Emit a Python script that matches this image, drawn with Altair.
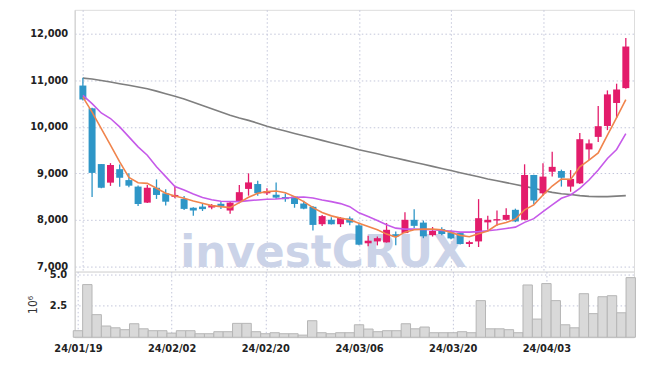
import json
import altair as alt
import pandas as pd

dates = ["24/01/19", "24/01/22", "24/01/23", "24/01/24", "24/01/25", "24/01/26", "24/01/29", "24/01/30", "24/01/31", "24/02/01",
         "24/02/02", "24/02/05", "24/02/06", "24/02/07", "24/02/08", "24/02/13", "24/02/14", "24/02/15", "24/02/16", "24/02/19",
         "24/02/20", "24/02/21", "24/02/22", "24/02/23", "24/02/26", "24/02/27", "24/02/28", "24/02/29", "24/03/04", "24/03/05",
         "24/03/06", "24/03/07", "24/03/08", "24/03/11", "24/03/12", "24/03/13", "24/03/14", "24/03/15", "24/03/18", "24/03/19",
         "24/03/20", "24/03/21", "24/03/22", "24/03/25", "24/03/26", "24/03/27", "24/03/28", "24/03/29", "24/04/01", "24/04/02",
         "24/04/03", "24/04/04", "24/04/05", "24/04/08", "24/04/09", "24/04/11", "24/04/12", "24/04/15", "24/04/16", "24/04/17"]

opens = [10890, 10400, 9200, 8800, 9090, 8855, 8715, 8370, 8690, 8570,
         8495, 8450, 8260, 8285, 8265, 8345, 8200, 8385, 8665, 8770,
         8570, 8540, 8490, 8500, 8350, 8280, 7905, 8000, 7905, 8030,
         7880, 7495, 7535, 7515, 7690, 7715, 8000, 7940, 7670, 7800,
         7730, 7715, 7480, 7535, 7945, 7985, 8000, 8215, 8000, 8965,
         8570, 9035, 9050, 8715, 8785, 9515, 9785, 10020, 10515, 10835]
closes = [10590, 9010, 8690, 9180, 8905, 8735, 8340, 8690, 8535, 8390,
          8535, 8235, 8200, 8230, 8315, 8290, 8370, 8595, 8805, 8570,
          8620, 8478, 8445, 8340, 8240, 7890, 8080, 7905, 8040, 7940,
          7465, 7550, 7605, 7785, 7640, 8000, 7870, 7645, 7760, 7695,
          7600, 7480, 7520, 8035, 8000, 8015, 8105, 7965, 8965, 8415,
          8930, 9140, 8905, 8880, 9735, 9645, 10015, 10700, 10805, 11730]
highs = [11060, 10410, 9200, 9220, 9190, 9000, 8740, 8750, 8870, 8660,
         8735, 8510, 8270, 8355, 8340, 8390, 8390, 8750, 9000, 8840,
         8680, 8805, 8565, 8510, 8410, 8300, 8105, 8055, 8060, 8070,
         7930, 7655, 7640, 7930, 7750, 8165, 8230, 7985, 7845, 7840,
         7770, 7720, 7550, 8445, 8085, 8200, 8250, 8240, 9195, 8970,
         9215, 9465, 9080, 9070, 9870, 9730, 10450, 10785, 10930, 11915]
lows = [10570, 8490, 8680, 8730, 8710, 8700, 8300, 8360, 8450, 8310,
        8465, 8210, 8085, 8190, 8230, 8235, 8130, 8355, 8520, 8520,
        8535, 8450, 8390, 8260, 8230, 7770, 7865, 7900, 7845, 7885,
        7450, 7430, 7450, 7510, 7450, 7710, 7820, 7605, 7640, 7670,
        7580, 7470, 7415, 7415, 7785, 7870, 7990, 7950, 7990, 8340,
        8520, 8930, 8715, 8605, 8770, 9285, 9675, 9930, 10190, 10820]
volumes = [0.52, 4.17, 1.79, 0.89, 0.75, 0.60, 1.07, 0.67, 0.52, 0.52,
           0.33, 0.52, 0.52, 0.28, 0.28, 0.44, 0.44, 1.10, 1.10, 0.44,
           0.28, 0.36, 0.28, 0.28, 0.17, 1.31, 0.36, 0.28, 0.36, 0.36,
           0.99, 0.65, 0.44, 0.52, 0.52, 1.07, 0.67, 0.81, 0.36, 0.36,
           0.36, 0.44, 0.36, 2.90, 0.67, 0.67, 0.60, 0.36, 4.14, 1.44,
           4.25, 2.90, 0.99, 0.75, 3.45, 1.87, 3.21, 3.29, 1.94, 4.72]
ma_short = [10641, 10320, 9964, 9606, 9248, 8914, 8798, 8785, 8678, 8571,
            8513, 8464, 8406, 8357, 8306, 8284, 8263, 8370, 8485, 8571,
            8606, 8620, 8584, 8499, 8391, 8263, 8156, 8085, 8036, 8000,
            7928, 7856, 7785, 7692, 7628, 7735, 7785, 7800, 7800, 7785,
            7728, 7665, 7635, 7700, 7760, 7892, 7942, 8015, 8214, 8321,
            8535, 8728, 8878, 8871, 9142, 9285, 9441, 9821, 10200, 10586]
ma_mid = [10680, 10500, 10300, 10180, 10000, 9785, 9570, 9390, 9140, 8930,
          8715, 8640, 8555, 8480, 8430, 8400, 8395, 8392, 8413, 8428,
          8443, 8449, 8464, 8485, 8492, 8470, 8428, 8392, 8349, 8284,
          8150, 8071, 7985, 7892, 7821, 7800, 7800, 7793, 7785, 7771,
          7757, 7735, 7735, 7745, 7765, 7785, 7814, 7843, 7945, 8025,
          8178, 8321, 8464, 8535, 8678, 8857, 9071, 9321, 9514, 9857]
ma_long = [11050, 11030, 11000, 10965, 10930, 10895, 10860, 10820, 10770, 10715,
           10660, 10600, 10530, 10460, 10390, 10320, 10250, 10190, 10140, 10080,
           10015, 9960, 9910, 9860, 9810, 9760, 9710, 9660, 9610, 9560,
           9510, 9465, 9420, 9375, 9330, 9285, 9240, 9195, 9150, 9105,
           9060, 9015, 8970, 8925, 8880, 8840, 8800, 8760, 8720, 8680,
           8630, 8590, 8560, 8545, 8520, 8505, 8500, 8500, 8510, 8520]

price_ticks = [7000, 8000, 9000, 10000, 11000, 12000]
volume_ticks = [2.5, 5.0]
date_tick_index = [0, 10, 20, 30, 40, 50]
watermark = ["investCRUX"]

UP = "#e31c6b"
DOWN = "#2e96c7"
FONT = "DejaVu Sans Condensed"
GRID = "#c3c6da"
LABEL = dict(labelFont=FONT, labelFontSize=11, labelFontWeight="bold", labelColor="#222222")

df = pd.DataFrame({
    "i": list(range(len(dates))), "date": dates,
    "open": opens, "high": highs, "low": lows, "close": closes,
    "vol": volumes, "ma5": ma_short, "ma20": ma_mid, "ma60": ma_long,
})

xdom = [-0.35, len(dates) - 1 + 0.35]
label_expr = json.dumps(dates) + "[datum.value]"

x_price = alt.X("i:Q", scale=alt.Scale(domain=xdom, nice=False, zero=False),
                axis=alt.Axis(values=date_tick_index, labels=False, ticks=False, domain=False,
                              grid=True, gridColor=GRID, gridDash=[1.5, 2.5], title=None))
y_price_scale = alt.Scale(domain=[6886, 12520], nice=False, zero=False)

base = alt.Chart(df)

wm = alt.Chart(pd.DataFrame({"t": watermark})).mark_text(
    font="DejaVu Sans", fontWeight="bold", fontSize=44, color="#cbd3e8",
    align="center", baseline="alphabetic"
).encode(text="t:N", x=alt.value(250), y=alt.value(258))

color_cond = alt.condition("datum.close >= datum.open", alt.value(UP), alt.value(DOWN))

wick = base.mark_rule(strokeWidth=1.3).encode(
    x=x_price,
    y=alt.Y("low:Q", scale=y_price_scale,
            axis=alt.Axis(values=price_ticks, format=",.0f", grid=True, gridColor=GRID, gridDash=[1.5, 2.5],
                          ticks=False, domainColor="#cfcfcf", labelPadding=7, title=None, **LABEL)),
    y2="high:Q",
    color=color_cond,
)
body = base.mark_bar(size=7).encode(
    x="i:Q", y="open:Q", y2="close:Q", color=color_cond,
)
l5 = base.mark_line(color="#f0844c", strokeWidth=1.6).encode(x="i:Q", y="ma5:Q")
l20 = base.mark_line(color="#c65ae9", strokeWidth=1.6).encode(x="i:Q", y="ma20:Q")
l60 = base.mark_line(color="#7f7f7f", strokeWidth=1.6).encode(x="i:Q", y="ma60:Q")

price = alt.layer(wm, l60, wick, body, l20, l5).properties(width=562, height=263)

vol = base.transform_calculate(x0="datum.i - 0.5", x1="datum.i + 0.5").mark_bar(
    fill="#d9d9d9", stroke="#b5b5b5", strokeWidth=1
).encode(
    x=alt.X("x0:Q", scale=alt.Scale(domain=xdom, nice=False, zero=False),
            axis=alt.Axis(values=date_tick_index, labelExpr=label_expr, ticks=False, domain=False,
                          grid=True, gridColor=GRID, gridDash=[1.5, 2.5], labelPadding=5,
                          title=None, **LABEL)),
    x2="x1:Q",
    y=alt.Y("vol:Q", scale=alt.Scale(domain=[0, 5.2], nice=False),
            axis=alt.Axis(values=volume_ticks, format=".1f", grid=True, gridColor=GRID, gridDash=[1.5, 2.5],
                          ticks=False, domainColor="#cfcfcf", labelPadding=8, title="10⁶", titleFont=FONT,
                          titleFontSize=12, titleFontWeight="normal", titleColor="#333333",
                          titlePadding=10, **LABEL)),
    y2=alt.datum(0),
).properties(width=562, height=66)

chart = alt.vconcat(price, vol, spacing=0, bounds="flush").properties(
    padding={"left": 17, "top": 0, "right": 0, "bottom": 0}
).configure_view(stroke="#d3d3d3").configure(background="white")

chart.save("out.html", embed_options={"renderer": "svg", "actions": False})
